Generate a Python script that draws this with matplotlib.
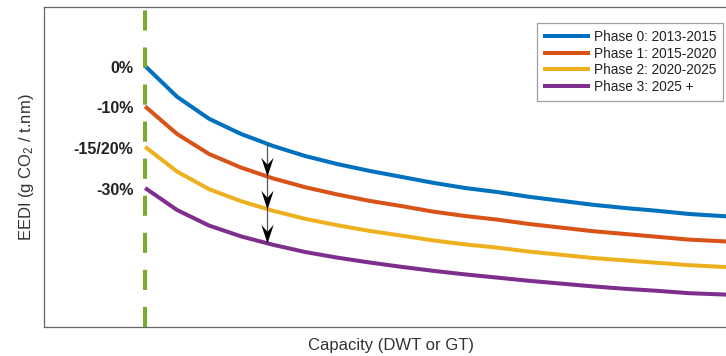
import numpy as np
import matplotlib as mpl
from matplotlib import pyplot as plt
from matplotlib.path import Path

mpl.rcParams["font.family"] = ["Liberation Sans", "DejaVu Sans"]
mpl.rcParams["mathtext.fontset"] = "custom"
mpl.rcParams["mathtext.rm"] = "Liberation Sans"
mpl.rcParams["mathtext.it"] = "Liberation Sans:italic"

# capacity grid (arbitrary units, no ticks shown)
capacity = [10, 20, 30, 40, 50, 60, 70, 80, 90, 100,
            110, 120, 130, 140, 150, 160, 170, 180, 190, 200]

# EEDI reference lines per phase (ref start = 100)
phase0 = [101.0, 93.3, 87.8, 84.0, 81.0, 78.5, 76.5, 74.8, 73.3, 71.8,
          70.5, 69.5, 68.3, 67.3, 66.3, 65.5, 64.8, 64.0, 63.5, 63.0]
phase1 = [90.9, 84.0, 79.0, 75.6, 72.9, 70.7, 68.9, 67.3, 66.0, 64.6,
          63.5, 62.6, 61.5, 60.6, 59.7, 59.0, 58.3, 57.6, 57.2, 56.7]
phase2 = [80.8, 74.6, 70.2, 67.2, 64.8, 62.8, 61.2, 59.8, 58.6, 57.4,
          56.4, 55.6, 54.6, 53.8, 53.0, 52.4, 51.8, 51.2, 50.8, 50.4]
phase3 = [70.5, 65.0, 61.1, 58.4, 56.3, 54.5, 53.1, 51.9, 50.8, 49.8,
          48.9, 48.1, 47.3, 46.6, 45.9, 45.3, 44.8, 44.2, 43.9, 43.5]

phase_labels = ["Phase 0: 2013-2015", "Phase 1: 2015-2020",
                "Phase 2: 2020-2025", "Phase 3: 2025 +"]
reduction_labels = ["0%", "-10%", "-15/20%", "-30%"]
colors = ["#0072BD", "#D95319", "#EDB120", "#7E2F8E"]

cutoff = 10   # lower capacity limit (green dashed line)
arrow_x = 48  # where the reduction arrows are drawn


def interp(series, x):
    return float(np.interp(x, capacity, series))


fig = plt.figure(figsize=(7.26, 3.56), dpi=100)
ax = fig.add_axes([44 / 726, 1 - 327 / 356, 694 / 726, 320 / 356])

series = [phase0, phase1, phase2, phase3]
for s, c, lab in zip(series, colors, phase_labels):
    ax.plot(capacity, s, color=c, lw=2.9, label=lab, solid_capstyle="butt")

# lower capacity limit
ax.axvline(cutoff, color="#77AC30", lw=2.9, dashes=(5, 4.2))

# reduction arrows
ys = [interp(s, arrow_x) for s in series]
ax.plot([arrow_x, arrow_x], [ys[0], ys[-1]], color="#555555", lw=0.9)
head = Path([(0, 0), (-0.33, 1), (0, 0.62), (0.33, 1), (0, 0)],
            [Path.MOVETO, Path.LINETO, Path.LINETO, Path.LINETO, Path.CLOSEPOLY])
for y in ys[1:]:
    ax.plot(arrow_x, y, marker=head, ms=27, color="black", mew=0, zorder=5)

# percentage labels
for s, txt in zip(series, reduction_labels):
    ax.text(6.3, s[0] - 0.6, txt, ha="right", va="center", fontsize=11.5,
            fontweight="bold", color="#222222")

ax.set_xlim(-21.6, 195.3)
ax.set_ylim(35.75, 115.75)
ax.set_xticks([])
ax.set_yticks([])
for sp in ax.spines.values():
    sp.set_color("#666666")
    sp.set_linewidth(0.9)

ax.set_xlabel("Capacity (DWT or GT)", fontsize=12, color="#333333", labelpad=8)
ax.set_ylabel("EEDI (g CO$_2$ / t.nm)", fontsize=12, color="#333333", labelpad=6)

leg = ax.legend(loc="upper right", bbox_to_anchor=(723 / 726, 1 - 23 / 356),
                bbox_transform=fig.transFigure, fontsize=9.8, frameon=True,
                fancybox=False, handlelength=3.4, handletextpad=0.3,
                borderpad=0.5, labelspacing=0.2, borderaxespad=0)
leg.get_frame().set_edgecolor("#888888")
leg.get_frame().set_linewidth(0.9)
for t in leg.get_texts():
    t.set_color("#222222")

fig.savefig("out.png", dpi=100)
